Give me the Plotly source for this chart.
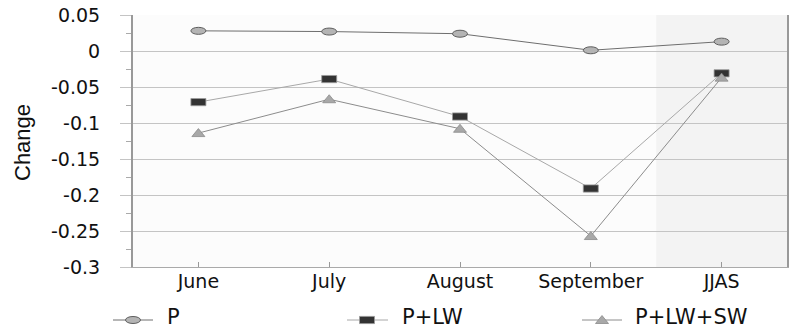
import plotly.graph_objects as go

# ---- data ----
categories = ["June", "July", "August", "September", "JJAS"]
p_vals = [0.028, 0.027, 0.024, 0.001, 0.013]
p_lw_vals = [-0.071, -0.039, -0.091, -0.191, -0.031]
p_lw_sw_vals = [-0.114, -0.067, -0.108, -0.257, -0.037]
series_names = ["P", "P+LW", "P+LW+SW"]
ytick_vals = [0.05, 0, -0.05, -0.1, -0.15, -0.2, -0.25, -0.3]
ytick_text = ["0.05", "0", "-0.05", "-0.1", "-0.15", "-0.2", "-0.25", "-0.3"]

# ---- styles ----
line_colors = ["#6e6e6e", "#a8a8a8", "#8c8c8c"]
FONT = "DejaVu Sans"
FIG_W, FIG_H = 810, 331
L, W = 133, 654
T, H = 15, 252

fig = go.Figure()
series = [p_vals, p_lw_vals, p_lw_sw_vals]
for name, vals, lc in zip(series_names, series, line_colors):
    fig.add_trace(go.Scatter(x=categories, y=vals, name=name, mode="lines",
                             line=dict(color=lc, width=1), showlegend=False,
                             hoverinfo="x+y"))

shapes = []
# JJAS shaded band
shapes.append(dict(type="rect", xref="x", yref="paper", x0=3.5, x1=4.5, y0=0, y1=1,
                   fillcolor="#f3f3f3", line=dict(width=0), layer="below"))


def ellipse(xref, yref, xa, ya):
    return dict(type="circle", xref=xref, yref=yref, xsizemode="pixel", ysizemode="pixel",
                xanchor=xa, yanchor=ya, x0=-7.5, x1=7.5, y0=-3.5, y1=3.5,
                fillcolor="#b4b4b4", line=dict(color="#5e5e5e", width=1), layer="above")


def box(xref, yref, xa, ya):
    return dict(type="rect", xref=xref, yref=yref, xsizemode="pixel", ysizemode="pixel",
                xanchor=xa, yanchor=ya, x0=-7.5, x1=7.5, y0=-3.6, y1=3.6,
                fillcolor="#333333", line=dict(color="#9a9a9a", width=0.8), layer="above")


def tri(xref, yref, xa, ya):
    return dict(type="path", xref=xref, yref=yref, xsizemode="pixel", ysizemode="pixel",
                xanchor=xa, yanchor=ya, path="M -6.5,-3.5 L 6.5,-3.5 L 0,4.5 Z",
                fillcolor="#a8a8a8", line=dict(color="#8a8a8a", width=0.8), layer="above")


makers = [ellipse, box, tri]
for mk, vals in zip(makers, series):
    for c, v in zip(categories, vals):
        shapes.append(mk("x", "y", c, v))


# pixel -> paper helpers
def px(xp):
    return (xp - L) / W


def py(yp):
    return 1 - (yp - T) / H


# ---- manual legend ----
leg_y = py(320)
leg_items = [(113, 153, 133, 165), (347, 388, 367, 400), (582, 622, 602, 633)]
annotations = []
for (x0, x1, xm, xt), mk, lc, name in zip(leg_items, makers, line_colors, series_names):
    shapes.append(dict(type="line", xref="paper", yref="paper", x0=px(x0), x1=px(x1),
                       y0=leg_y, y1=leg_y, line=dict(color=lc, width=1)))
    shapes.append(mk("paper", "paper", px(xm), leg_y))
    annotations.append(dict(text=name, xref="paper", yref="paper", x=px(xt), y=py(317),
                            xanchor="left", yanchor="middle", showarrow=False,
                            font=dict(family=FONT, size=21, color="#111111")))

annotations.append(dict(text="Change", xref="paper", yref="paper", x=px(22), y=py(143),
                        xanchor="center", yanchor="middle", textangle=-90, showarrow=False,
                        font=dict(family="Liberation Sans", size=22, color="#111111")))

fig.update_layout(
    width=FIG_W, height=FIG_H,
    margin=dict(l=L, r=FIG_W - L - W, t=T, b=FIG_H - T - H, pad=0),
    paper_bgcolor="white", plot_bgcolor="#fcfcfc",
    shapes=shapes, annotations=annotations, showlegend=False,
    xaxis=dict(type="category", categoryorder="array", categoryarray=categories,
               range=[-0.5, 4.5], showgrid=False, zeroline=False, automargin=False,
               ticks="inside", ticklen=5, tickcolor="#999999",
               showline=True, linecolor="#aaaaaa", linewidth=1,
               ticklabelstandoff=-3,
               tickfont=dict(family=FONT, size=19, color="#111111")),
    yaxis=dict(range=[-0.3, 0.05], tickvals=ytick_vals, ticktext=ytick_text,
               showgrid=True, gridcolor="#c4c4c4", gridwidth=1, zeroline=False,
               automargin=False, ticklabeloverflow="allow",
               ticks="outside", ticklen=11, tickcolor="#c4c4c4",
               showline=True, linecolor="#999999", linewidth=2, mirror=True,
               minor=dict(dtick=0.025, tick0=0, ticks="outside", ticklen=5,
                          tickcolor="#aaaaaa", showgrid=False),
               ticklabelstandoff=16,
               tickfont=dict(family=FONT, size=19, color="#111111")),
)

fig.write_html("out.html", config={"displayModeBar": False},
               post_script="document.body.style.margin='0';document.body.style.overflow='hidden';")
